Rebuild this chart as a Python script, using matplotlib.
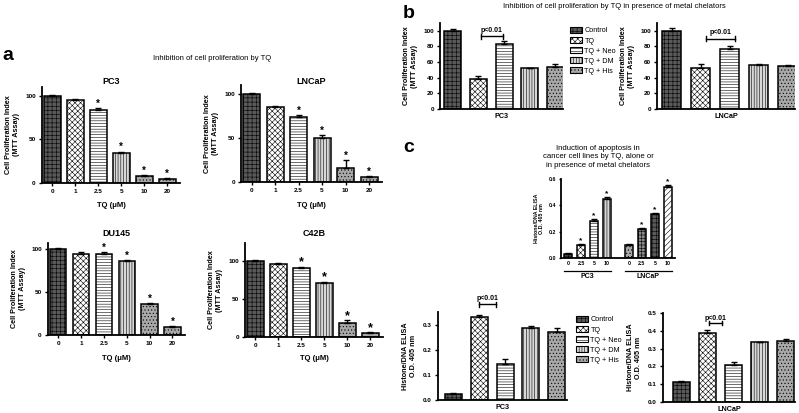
import matplotlib
matplotlib.use("Agg")
import matplotlib.pyplot as plt
from matplotlib.patches import Patch
import matplotlib.transforms as mtransforms

# ---------------------------------------------------------------------------
# DATA
# ---------------------------------------------------------------------------
doses = ['0', '1', '2.5', '5', '10', '20']
dose_stars = [False, False, True, True, True, True]

pc3_a = [100, 95, 84, 34, 8, 5]
pc3_a_err = [1, 1, 2, 2, 1, 0.5]
lncap_a = [100, 85, 74, 50, 16, 6]
lncap_a_err = [1, 1.5, 1.5, 3, 9, 1]
du145_a = [100, 94, 94, 86, 36, 9]
du145_a_err = [1, 2.5, 2.5, 1, 1, 1]
c42b_a = [100, 96, 91, 71, 19, 5]
c42b_a_err = [1, 1, 2, 2, 3, 1]

treatments = ['Control', 'TQ', 'TQ + Neo', 'TQ + DM', 'TQ + His']
pc3_b = [100, 39, 83, 52, 54]
pc3_b_err = [2, 3, 4, 1, 3]
lncap_b = [100, 53, 77, 56, 55]
lncap_b_err = [3, 5, 4, 2, 1]

c_doses = ['0', '2.5', '5', '10']
c_dose_stars = [False, True, True, True]
pc3_c_dose = [0.03, 0.10, 0.28, 0.45]
pc3_c_dose_err = [0.005, 0.008, 0.015, 0.015]
lncap_c_dose = [0.10, 0.22, 0.335, 0.54]
lncap_c_dose_err = [0.004, 0.008, 0.01, 0.012]

pc3_c = [0.025, 0.33, 0.145, 0.287, 0.272]
pc3_c_err = [0.003, 0.007, 0.02, 0.006, 0.015]
lncap_c = [0.11, 0.39, 0.21, 0.335, 0.345]
lncap_c_err = [0.006, 0.015, 0.012, 0.003, 0.007]

# ---------------------------------------------------------------------------
# STYLE
# ---------------------------------------------------------------------------
W, H = 799, 413
plt.rcParams.update({
    'font.family': ['Liberation Sans', 'DejaVu Sans'],
    'font.weight': 'bold',
    'hatch.linewidth': 0.4,
    'axes.linewidth': 1.3,
})

# (facecolor, hatch) per bar type
CONTROL = ('#5a5a5a', '++++')
CHECK = ('white', 'xxxxxx')
HLINES = ('white', '------')
VLINES = ('#d8d8d8', '||||||')
DOTS = ('#a8a8a8', '.....')
GRID = ('#8a8a8a', '+++++')
DIAG = ('white', '//////')
dose_styles = [CONTROL, CHECK, HLINES, VLINES, DOTS, DOTS]
treat_styles = [CONTROL, CHECK, HLINES, VLINES, DOTS]

TICK_FS = 4.6
LAB_FS = 5.2


def px_axes(fig, l, t, r, b):
    return fig.add_axes([l / W, 1 - b / H, (r - l) / W, (b - t) / H])


def style_axes(ax, fs=TICK_FS, tl=2.5):
    ax.spines['top'].set_visible(False)
    ax.spines['right'].set_visible(False)
    ax.tick_params(axis='both', labelsize=fs, width=1, length=tl, pad=2)
    for lab in ax.get_xticklabels() + ax.get_yticklabels():
        lab.set_fontweight('bold')


def draw_bars(ax, xs, vals, errs, styles, width=0.7):
    for x, v, e, (fc, h) in zip(xs, vals, errs, styles):
        ax.bar(x, v, width=width, color=fc, hatch=h, edgecolor='black', linewidth=1.1, zorder=2)
        ax.errorbar(x, v, yerr=[[0], [e]], fmt='none', ecolor='black',
                    elinewidth=1, capsize=2.2, capthick=1, zorder=3)


def add_stars(ax, xs, vals, errs, flags, offset, size=7):
    for x, v, e, f in zip(xs, vals, errs, flags):
        if f:
            ax.text(x, v + e + offset, '*', ha='center', va='center', fontsize=size, fontweight='bold')


def bracket(ax, x0, x1, y, tick, label, ty):
    ax.plot([x0, x1], [y, y], color='black', lw=1, clip_on=False)
    ax.plot([x0, x0], [y - tick, y + tick], color='black', lw=1, clip_on=False)
    ax.plot([x1, x1], [y - tick, y + tick], color='black', lw=1, clip_on=False)
    ax.text((x0 + x1) / 2, ty, label, ha='center', va='center', fontsize=5, fontweight='bold', clip_on=False)


def fig_text(fig, x, y, s, **kw):
    fig.text(x / W, 1 - y / H, s, **kw)


def add_legend(fig, x, y):
    handles = [Patch(facecolor=fc, hatch=h, edgecolor='black', linewidth=0.8) for fc, h in treat_styles]
    leg = fig.legend(handles, treatments, loc='upper left', bbox_to_anchor=(x / W, 1 - y / H),
                     frameon=False, fontsize=5.2, handlelength=1.6, handleheight=0.9,
                     labelspacing=0.35, handletextpad=0.4, borderaxespad=0, borderpad=0)
    for t in leg.get_texts():
        t.set_fontweight('normal')


fig = plt.figure(figsize=(W / 100, H / 100), dpi=100)

# ---------------------------------------------------------------------------
# PANEL a
# ---------------------------------------------------------------------------
fig_text(fig, 2, 55, 'a', fontsize=14, fontweight='bold', va='center')
fig_text(fig, 212, 59, 'Inhibition of cell proliferation by TQ', fontsize=5.5,
         fontweight='normal', ha='center', va='center')

panels_a = [
    ('PC3', pc3_a, pc3_a_err, (42, 87, 180, 183), 110, 81, 205, 7),
    ('LNCaP', lncap_a, lncap_a_err, (241, 85, 382, 182), 110, 81, 205, 7),
    ('DU145', du145_a, du145_a_err, (48, 243, 185, 335), 107, 233, 358, 7),
    ('C42B', c42b_a, c42b_a_err, (245, 243, 383, 337), 124, 233, 358, 9),
]
for name, vals, errs, rect, ytop, ty, xly, ssz in panels_a:
    ax = px_axes(fig, *rect)
    xs = list(range(len(doses)))
    draw_bars(ax, xs, vals, errs, dose_styles, width=0.72)
    add_stars(ax, xs, vals, errs, dose_stars, ytop * 0.045, size=ssz)
    ax.set_ylim(0, ytop)
    ax.set_xlim(-0.45, 5.55)
    ax.set_yticks([0, 50, 100])
    ax.set_xticks(xs)
    ax.set_xticklabels(doses)
    style_axes(ax)
    ax.set_ylabel('Cell Proliferation Index\n(MTT Assay)', fontsize=LAB_FS, fontweight='bold', labelpad=4)
    cx = (rect[0] + rect[2]) / 2
    fig_text(fig, cx, ty, name, fontsize=6.5, fontweight='bold', ha='center', va='center')
    fig_text(fig, cx, xly, 'TQ (\u03bcM)', fontsize=5.5, fontweight='bold', ha='center', va='center')

# ---------------------------------------------------------------------------
# PANEL b
# ---------------------------------------------------------------------------
fig_text(fig, 403, 13, 'b', fontsize=14, fontweight='bold', va='center')
fig_text(fig, 614, 6, 'Inhibition of cell proliferation by TQ in presence of metal chelators',
         fontsize=5.5, fontweight='normal', ha='center', va='center')

panels_b = [
    ('PC3', pc3_b, pc3_b_err, (440, 23, 563, 109), (-0.5, 4.3), (1.1, 1.95, 93, 101)),
    ('LNCaP', lncap_b, lncap_b_err, (657, 23, 795, 109), (-0.5, 4.25), (1.2, 2.2, 90, 98)),
]
for name, vals, errs, rect, xl, br in panels_b:
    ax = px_axes(fig, *rect)
    xs = list(range(len(treatments)))
    draw_bars(ax, xs, vals, errs, treat_styles, width=0.66)
    ax.set_ylim(0, 110)
    ax.set_xlim(*xl)
    ax.set_yticks([0, 20, 40, 60, 80, 100])
    ax.set_xticks([])
    style_axes(ax)
    ax.set_ylabel('Cell Proliferation Index\n(MTT Assay)', fontsize=LAB_FS, fontweight='bold', labelpad=4)
    ax.set_xlabel(name, fontsize=5.2, fontweight='bold', labelpad=3)
    bracket(ax, br[0], br[1], br[2], 3, 'p<0.01', br[3])

add_legend(fig, 570, 27)

# ---------------------------------------------------------------------------
# PANEL c
# ---------------------------------------------------------------------------
fig_text(fig, 403, 148, 'c', fontsize=14, fontweight='bold', va='center')
fig_text(fig, 598, 157,
         'Induction of apoptosis in\ncancer cell lines by TQ, alone or\nin presence of metal chelators',
         fontsize=5.6, fontweight='normal', ha='center', va='center', linespacing=1.25)

ax = px_axes(fig, 561, 179, 675, 258)
pos_pc3 = [0, 1, 2, 3]
pos_ln = [4.7, 5.7, 6.7, 7.7]
draw_bars(ax, pos_pc3, pc3_c_dose, pc3_c_dose_err, [CONTROL, CHECK, HLINES, VLINES], width=0.66)
draw_bars(ax, pos_ln, lncap_c_dose, lncap_c_dose_err, [DOTS, GRID, CONTROL, DIAG], width=0.66)
add_stars(ax, pos_pc3, pc3_c_dose, pc3_c_dose_err, c_dose_stars, 0.025, size=6)
add_stars(ax, pos_ln, lncap_c_dose, lncap_c_dose_err, c_dose_stars, 0.025, size=6)
ax.set_ylim(0, 0.6)
ax.set_xlim(-0.55, 8.25)
ax.set_yticks([0, 0.2, 0.4, 0.6])
ax.set_yticklabels(['0.0', '0.2', '0.4', '0.6'])
ax.set_xticks(pos_pc3 + pos_ln)
ax.set_xticklabels(c_doses + c_doses)
style_axes(ax, fs=3.8, tl=1.5)
ax.tick_params(axis='x', length=0)
ax.set_ylabel('Histone/DNA ELISA\nO.D. 405 nm', fontsize=3.8, fontweight='bold', labelpad=3)
trans = mtransforms.blended_transform_factory(ax.transData, ax.transAxes)
for grp, pos in (('PC3', pos_pc3), ('LNCaP', pos_ln)):
    ax.plot([pos[0] - 0.3, pos[-1] + 0.3], [-0.16, -0.16], color='black', lw=0.9,
            transform=trans, clip_on=False)
    ax.text((pos[0] + pos[-1]) / 2, -0.24, grp, transform=trans, ha='center', va='center',
            fontsize=5, fontweight='bold')

panels_c = [
    ('PC3', pc3_c, pc3_c_err, (438, 312, 567, 400), 0.35, [0, 0.1, 0.2, 0.3], (-0.6, 4.4),
     (1.0, 1.65, 0.38, 0.405)),
    ('LNCaP', lncap_c, lncap_c_err, (663, 313, 795, 402), 0.5, [0, 0.1, 0.2, 0.3, 0.4, 0.5],
     (-0.7, 4.35), (1.05, 1.55, 0.445, 0.47)),
]
for name, vals, errs, rect, ytop, yt, xl, br in panels_c:
    ax = px_axes(fig, *rect)
    xs = list(range(len(treatments)))
    draw_bars(ax, xs, vals, errs, treat_styles, width=0.66)
    ax.set_ylim(0, ytop)
    ax.set_xlim(*xl)
    ax.set_yticks(yt)
    ax.set_yticklabels(['%.1f' % v for v in yt])
    ax.set_xticks([])
    style_axes(ax)
    ax.set_ylabel('Histone/DNA ELISA\nO.D. 405 nm', fontsize=LAB_FS, fontweight='bold', labelpad=4)
    ax.set_xlabel(name, fontsize=5.2, fontweight='bold', labelpad=3)
    bracket(ax, br[0], br[1], br[2], ytop * 0.025, 'p<0.01', br[3])

add_legend(fig, 576, 316)

fig.savefig('out.png', dpi=100, facecolor='white')
